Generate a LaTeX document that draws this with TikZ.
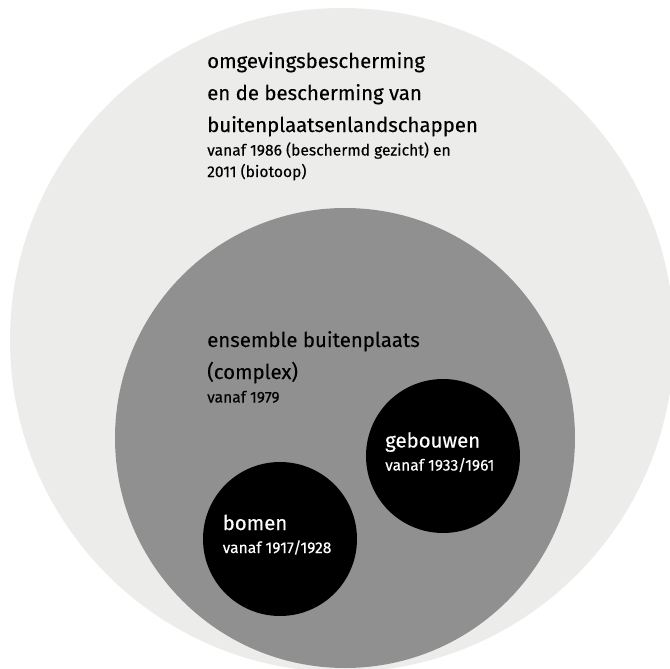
\documentclass[tikz,border=0pt]{standalone}
\usepackage{fontspec}
\setmainfont{Fira Sans}[FakeBold=0.3]
\definecolor{lightring}{HTML}{ECECEB}
\definecolor{midring}{HTML}{909090}
\tikzset{
  bigtext/.style = {anchor=base west, align=left, inner sep=0pt, font=\fontsize{20.4}{32}\selectfont},
  smalltext/.style = {anchor=base west, align=left, inner sep=0pt, font=\fontsize{15.6}{21.5}\selectfont},
}
\begin{document}
\begin{tikzpicture}[x=1pt,y=-1pt]
    \useasboundingbox (0,0) rectangle (670,669);
    \clip (0,0) rectangle (670,669);
    % rings
    \fill[lightring] (342,340) circle (332);
    \fill[midring] (345,438) circle (230);
    \fill[black] (443,456) circle (77);
    \fill[black] (280,539) circle (77);
    % outer ring text (base = last line)
    \node[bigtext] (omgeving) at (207,132) {omgevingsbescherming\\en de bescherming van\\buitenplaatsenlandschappen};
    \node[smalltext] (omgevingjaar) at (207,177) {vanaf 1986 (beschermd gezicht) en\\2011 (biotoop)};
    % middle ring text
    \node[bigtext] (ensemble) at (207,379) {ensemble buitenplaats\\(complex)};
    \node[smalltext] (ensemblejaar) at (207,402.5) {vanaf 1979};
    % inner circles
    \node[bigtext, white] (gebouwen) at (385,447.5) {gebouwen};
    \node[smalltext, white] (gebouwenjaar) at (385,470.5) {vanaf 1933/1961};
    \node[bigtext, white] (bomen) at (222.5,530) {bomen};
    \node[smalltext, white] (bomenjaar) at (222.5,553) {vanaf 1917/1928};
\end{tikzpicture}
\end{document}
